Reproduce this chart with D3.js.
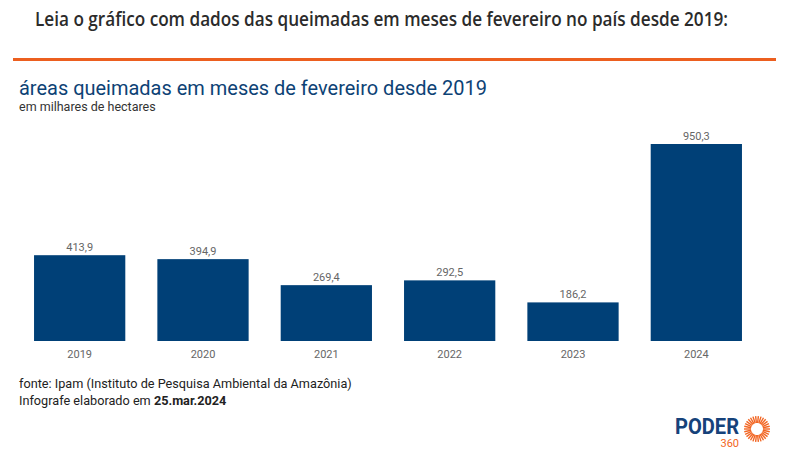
<!DOCTYPE html>
<html>
<head>
<meta charset="utf-8">
<script src="https://cdn.jsdelivr.net/npm/d3@7"></script>
<style>
  body { margin: 0; background: #fff; }
  svg { display: block; }
</style>
</head>
<body>
<svg id="chart" width="794" height="454"></svg>
<script>
var years = ["2019", "2020", "2021", "2022", "2023", "2024"];
var areas = [413.9, 394.9, 269.4, 292.5, 186.2, 950.3];

var svg = d3.select("#chart");
var head = "'Open Sans', 'Noto Sans', sans-serif";
var body = "Roboto, 'Liberation Sans', sans-serif";

// headline
svg.append("text")
    .attr("x", 35).attr("y", 26)
    .attr("font-family", head).attr("font-size", 19).attr("font-weight", 600)
    .attr("fill", "#2b2b2b")
    .attr("textLength", 693).attr("lengthAdjust", "spacingAndGlyphs")
    .text("Leia o gráfico com dados das queimadas em meses de fevereiro no país desde 2019:");

svg.append("rect")
    .attr("x", 13).attr("y", 58).attr("width", 763).attr("height", 3)
    .attr("fill", "#ec5f1f");

svg.append("text")
    .attr("x", 19).attr("y", 95)
    .attr("font-family", body).attr("font-size", 21)
    .attr("fill", "#0d4275")
    .attr("textLength", 468).attr("lengthAdjust", "spacingAndGlyphs")
    .text("áreas queimadas em meses de fevereiro desde 2019");

svg.append("text")
    .attr("x", 19).attr("y", 111)
    .attr("font-family", body).attr("font-size", 12.5)
    .attr("fill", "#333")
    .text("em milhares de hectares");

var x = d3.scaleBand()
    .domain(years)
    .range([18, 758])
    .paddingInner(0.26)
    .paddingOuter(0.13);

var y = d3.scaleLinear()
    .domain([0, 950.3])
    .range([341, 144]);

var data = years.map(function(d, i) { return { year: d, value: areas[i] }; });

svg.selectAll("rect.bar")
    .data(data)
    .enter().append("rect")
    .attr("class", "bar")
    .attr("x", function(d) { return x(d.year); })
    .attr("y", function(d) { return y(d.value); })
    .attr("width", x.bandwidth())
    .attr("height", function(d) { return y(0) - y(d.value); })
    .attr("fill", "#004077");

svg.selectAll("text.val")
    .data(data)
    .enter().append("text")
    .attr("class", "val")
    .attr("x", function(d) { return x(d.year) + x.bandwidth() / 2; })
    .attr("y", function(d) { return y(d.value) - 4; })
    .attr("text-anchor", "middle")
    .attr("font-family", body).attr("font-size", 11)
    .attr("fill", "#666")
    .text(function(d) { return d3.format(".1f")(d.value).replace(".", ","); });

var xAxis = d3.axisBottom(x).tickSize(0).tickPadding(9);
var gx = svg.append("g")
    .attr("transform", "translate(0,341)")
    .call(xAxis);
gx.select(".domain").remove();
gx.selectAll("text")
    .attr("font-family", body).attr("font-size", 11)
    .attr("fill", "#666");

// footer
var foot = svg.append("text")
    .attr("font-family", body).attr("font-size", 12.7)
    .attr("fill", "#222");
foot.append("tspan").attr("x", 19).attr("y", 388)
    .text("fonte: Ipam (Instituto de Pesquisa Ambiental da Amazônia)");
foot.append("tspan").attr("x", 19).attr("y", 405)
    .text("Infografe elaborado em ");
foot.append("tspan").attr("font-weight", "bold").text("25.mar.2024");

// logo
var logo = svg.append("g");
logo.append("text")
    .attr("x", 675).attr("y", 434)
    .attr("font-family", body).attr("font-size", 22).attr("font-weight", "bold")
    .attr("fill", "#16427a")
    .attr("textLength", 64).attr("lengthAdjust", "spacingAndGlyphs")
    .text("PODER");
logo.append("text")
    .attr("x", 739).attr("y", 447)
    .attr("text-anchor", "end")
    .attr("font-family", body).attr("font-size", 11)
    .attr("fill", "#f26522")
    .text("360");
var sun = logo.append("g").attr("transform", "translate(757,429)");
sun.selectAll("line")
    .data(d3.range(0, 360, 12))
    .enter().append("line")
    .attr("x1", function(a) { return 6 * Math.cos(a * Math.PI / 180); })
    .attr("y1", function(a) { return 6 * Math.sin(a * Math.PI / 180); })
    .attr("x2", function(a) { return 13 * Math.cos(a * Math.PI / 180); })
    .attr("y2", function(a) { return 13 * Math.sin(a * Math.PI / 180); })
    .attr("stroke", "#f26522").attr("stroke-width", 1.4);
</script>
</body>
</html>
